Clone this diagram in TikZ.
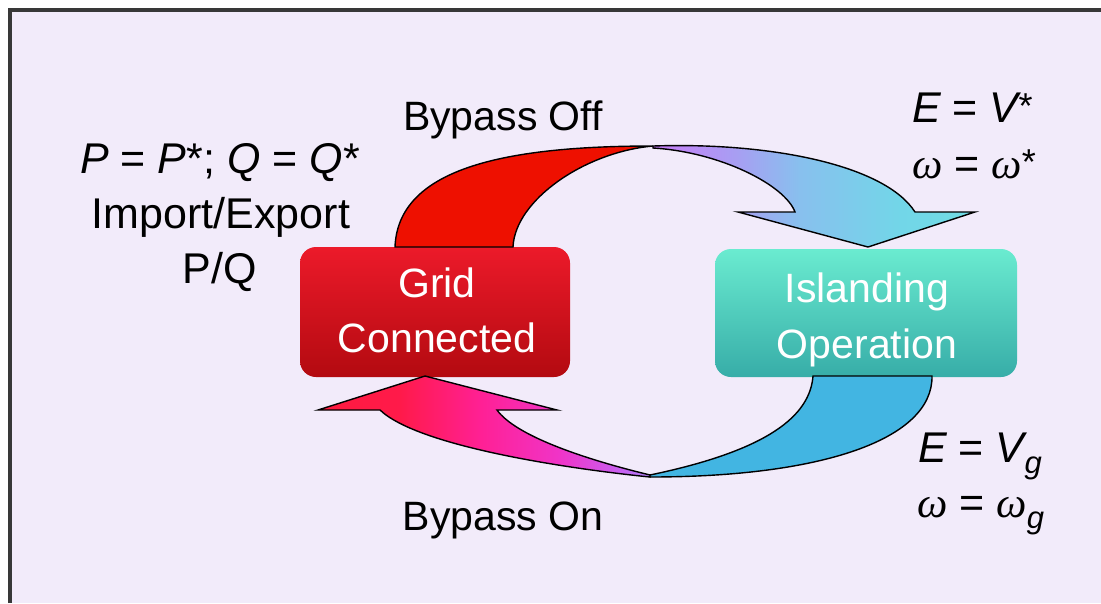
\documentclass[tikz,border=0pt]{standalone}
\usepackage{fontspec}
\setmainfont{Liberation Sans}
\newfontfamily\omegafont{Liberation Serif}
\definecolor{bgc}{HTML}{F2EBFA}
\definecolor{framec}{HTML}{383838}
\definecolor{redarr}{HTML}{EE1000}
\definecolor{bluearr}{HTML}{42B5E2}
\definecolor{gridtop}{HTML}{EC1A2A}
\definecolor{gridbot}{HTML}{B30A10}
\definecolor{isltop}{HTML}{6AEBD0}
\definecolor{islbot}{HTML}{37ADA8}
\definecolor{tpA}{HTML}{C87CF8}
\definecolor{tpB}{HTML}{A6A0F2}
\definecolor{tpC}{HTML}{88C0EE}
\definecolor{tpD}{HTML}{72D6E8}
\definecolor{tpE}{HTML}{70DCE4}
\definecolor{bpA}{HTML}{FF1A3E}
\definecolor{bpB}{HTML}{FF1A4A}
\definecolor{bpC}{HTML}{FF2094}
\definecolor{bpD}{HTML}{F034C8}
\definecolor{bpE}{HTML}{C860F0}
\definecolor{bpF}{HTML}{B080F8}
\pgfdeclarehorizontalshading{topshade}{100bp}{color(0bp)=(tpA); color(25bp)=(tpA); color(38.5bp)=(tpB); color(47.8bp)=(tpC); color(63.4bp)=(tpD); color(75bp)=(tpE); color(100bp)=(tpE)}
\pgfdeclarehorizontalshading{botshade}{100bp}{color(0bp)=(bpA); color(25bp)=(bpA); color(37.3bp)=(bpB); color(49.4bp)=(bpC); color(61.4bp)=(bpD); color(70.5bp)=(bpE); color(75bp)=(bpF); color(100bp)=(bpF)}
\newcommand{\myomega}{{\omegafont\itshape ω}}
\newcommand{\mystar}{\raisebox{0.08em}{\fontsize{36}{36}\selectfont *}}
\newcommand{\mysubg}{\raisebox{-0.26em}{\fontsize{31}{31}\selectfont\itshape g}}
\begin{document}
\begin{tikzpicture}[x=1pt,y=-1pt,
  statebox/.style={rounded corners=16pt, minimum width=#1, inner sep=0pt},
  boxtxt/.style={text=white, inner sep=0pt, anchor=base, font=\fontsize{41}{41}\selectfont},
  lbl/.style={inner sep=0pt, anchor=base, font=\fontsize{41}{41}\selectfont},
  eqn/.style={inner sep=0pt, anchor=base west, font=\fontsize{43}{43}\selectfont},
  arrowshape/.style={draw=black, line width=1.4pt, line join=miter}]
\useasboundingbox (0,0) rectangle (1101,603);
\fill[white] (0,0) rectangle (1101,603);
\fill[bgc] (10,10) rectangle (1101,603);
\draw[framec, line width=3.5pt] (10,603) -- (10,10) -- (1101,10);

% state boxes
\node[statebox=270pt, minimum height=130pt, top color=gridtop, bottom color=gridbot] (grid) at (435,312) {};
\node[statebox=302pt, minimum height=128pt, top color=isltop, bottom color=islbot] (island) at (866,313) {};

% top arrow (Bypass Off): red part
\path[arrowshape, fill=redarr] (395,247) .. controls (398,170) and (500,146) .. (653,146)
  .. controls (585,152) and (515,200) .. (513,247) -- cycle;
% top arrow: purple-cyan part with head
\path[arrowshape, shading=topshade] (653,146) .. controls (770,142) and (885,165) .. (915,212)
  -- (975,212) -- (868,247) -- (738,212) -- (795,212)
  .. controls (785,185) and (720,152) .. (653,148) -- cycle;

% bottom arrow (Bypass On): blue part
\path[arrowshape, fill=bluearr] (932,376) .. controls (933,440) and (820,477) .. (650,477)
  -- (650,475) .. controls (770,450) and (810,415) .. (813,376) -- cycle;
% bottom arrow: pink part with head
\path[arrowshape, shading=botshade] (650,477) .. controls (580,470) and (420,448) .. (380,410)
  -- (318,410) -- (425,376) -- (557,410) -- (497,410)
  .. controls (515,435) and (580,458) .. (650,475) -- cycle;

% box texts
\node[boxtxt] (gridA) at (437,297) {Grid};
\node[boxtxt] (gridB) at (437,352) {Connected};
\node[boxtxt] (islA) at (867,302) {Islanding};
\node[boxtxt] (islB) at (867,358) {Operation};

% arrow labels
\node[lbl] (boff) at (503,130) {Bypass Off};
\node[lbl] (bon) at (503,530) {Bypass On};

% left block
\node[lbl, font=\fontsize{43}{43}\selectfont] (pq1) at (220,173) {\itshape P\upshape{} = \itshape P\upshape*; \itshape Q\upshape{} = \itshape Q\upshape*};
\node[lbl, font=\fontsize{43}{43}\selectfont] (pq2) at (221,228) {Import/Export};
\node[lbl, font=\fontsize{43}{43}\selectfont] (pq3) at (220,283) {P/Q};

% right equations
\node[eqn] (e1) at (912,122) {{\itshape E} = {\itshape V}\mystar};
\node[eqn] (e2) at (912,178) {\myomega{} = \myomega\mystar};
\node[eqn] (e3) at (918,462) {{\itshape E} = {\itshape V}\mysubg};
\node[eqn] (e4) at (917,517) {\myomega{} = \myomega\mysubg};
\end{tikzpicture}
\end{document}
